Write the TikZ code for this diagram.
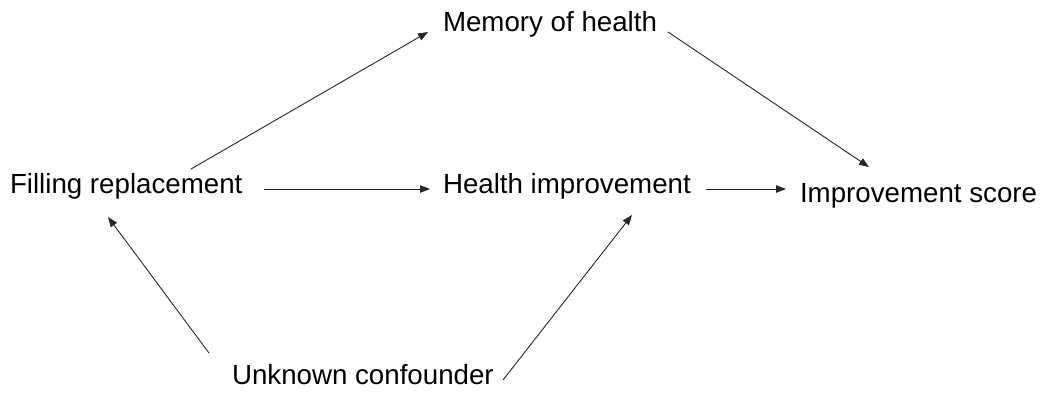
\documentclass[tikz,border=0pt]{standalone}
\usepackage{fontspec}
\setmainfont{Liberation Sans}
\usetikzlibrary{arrows.meta}
\tikzset{
  lbl/.style={inner sep=0pt, outer sep=0pt, anchor=base west, font=\fontsize{27.7}{31}\selectfont},
  arr/.style={line width=0.9pt, draw=black!85, -{Triangle[length=10pt,width=7.5pt]}}
}
\begin{document}
\begin{tikzpicture}[x=1pt,y=-1pt]
\useasboundingbox (0,0) rectangle (1044,392);
\node[lbl] (mem) at (443,31) {Memory of health};
\node[lbl] (fill) at (10,193) {Filling replacement};
\node[lbl] (hi) at (443,193) {Health improvement};
\node[lbl] (is) at (800,202) {Improvement score};
\node[lbl] (unk) at (232,384) {Unknown confounder};
\draw[arr] ([xshift=181pt,yshift=24pt]fill.base west) -- ([xshift=-15pt,yshift=-1pt]mem.base west);
\draw[arr] ([xshift=254pt,yshift=4pt]fill.base west) -- ([xshift=-13pt,yshift=4pt]hi.base west);
\draw[arr] ([xshift=225pt,yshift=-1pt]mem.base west) -- ([xshift=69pt,yshift=35pt]is.base west);
\draw[arr] ([xshift=263pt,yshift=4pt]hi.base west) -- ([xshift=-14pt,yshift=13pt]is.base west);
\draw[arr] ([xshift=-23pt,yshift=31pt]unk.base west) -- ([xshift=98pt,yshift=-24pt]fill.base west);
\draw[arr] ([xshift=271pt,yshift=4pt]unk.base west) -- ([xshift=189pt,yshift=-22pt]hi.base west);
\end{tikzpicture}
\end{document}
